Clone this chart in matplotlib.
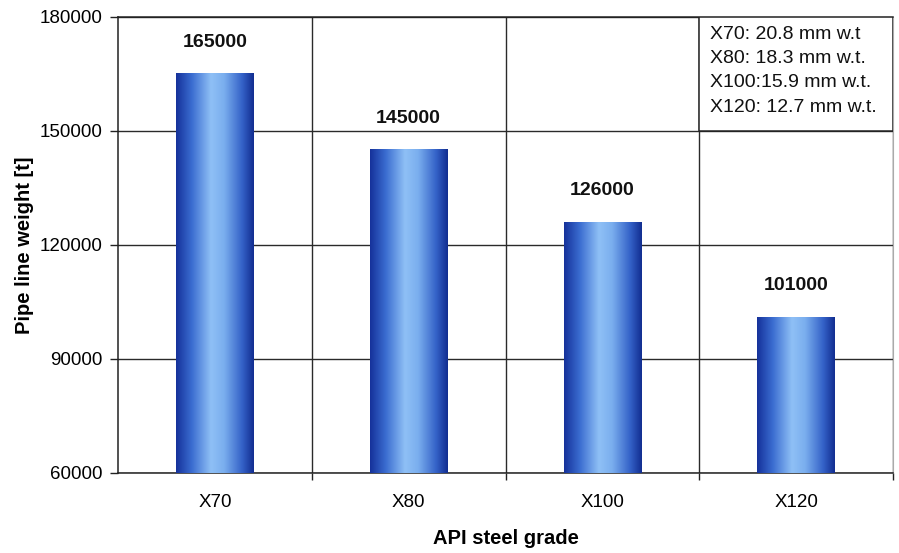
import matplotlib.pyplot as plt
import numpy as np
from matplotlib.colors import LinearSegmentedColormap
from matplotlib.patches import Rectangle

plt.rcParams['font.family'] = ['Liberation Sans', 'DejaVu Sans']

grades = ["X70", "X80", "X100", "X120"]
weights = [165000, 145000, 126000, 101000]
wall_notes = ["X70: 20.8 mm w.t", "X80: 18.3 mm w.t.", "X100:15.9 mm w.t.", "X120: 12.7 mm w.t."]
y_ticks = [60000, 90000, 120000, 150000, 180000]

# horizontal gradient for the "cylinder" look of the bars
bar_cmap = LinearSegmentedColormap.from_list(
    "bar", [(0.0, "#15319a"), (0.2, "#3a6cd0"), (0.45, "#8fc0f6"),
            (0.62, "#7aaeee"), (0.85, "#3462c8"), (1.0, "#122d90")])
grad = np.linspace(0, 1, 256).reshape(1, -1)

fig = plt.figure(figsize=(8.99, 5.53), dpi=100)
ax = fig.add_axes([0.1313, 0.1447, 0.8620, 0.8246])

x = np.arange(len(grades))
width = 0.4
bars = ax.bar(x, weights, width=width, color="none", edgecolor="none", zorder=3)
for b, v in zip(bars, weights):
    x0 = b.get_x()
    ax.imshow(grad, cmap=bar_cmap, aspect="auto", zorder=3,
              extent=(x0, x0 + width, y_ticks[0], v), interpolation="bicubic")
    ax.annotate(f"{v}", (b.get_x() + width / 2, v), xytext=(0, 23),
                textcoords="offset points", ha="center", va="center",
                fontsize=14, fontweight="bold", color="#111111")

ax.set_xlim(-0.5, 3.5)
ax.set_ylim(y_ticks[0], y_ticks[-1])
ax.set_yticks(y_ticks)
ax.set_xticks(x)
ax.set_xticklabels(grades)
ax.set_xticks(x + 0.5, minor=True)

ax.tick_params(axis="y", labelsize=13.5, length=6, width=1, pad=5, color="#222222")
ax.tick_params(axis="x", which="major", labelsize=13.5, length=0, pad=15)
ax.tick_params(axis="x", which="minor", length=5, width=1, color="#222222")

ax.grid(axis="y", which="major", color="#2a2a2a", linewidth=1, zorder=1)
ax.grid(axis="x", which="minor", color="#2a2a2a", linewidth=1, zorder=1)
ax.set_axisbelow(True)

for s in ["left", "bottom", "top"]:
    ax.spines[s].set_color("#222222")
    ax.spines[s].set_linewidth(1.1)
ax.spines["right"].set_color("#aaaaaa")

ax.set_xlabel("API steel grade", fontsize=14.5, fontweight="bold", labelpad=13)
ax.set_ylabel("Pipe line weight [t]", fontsize=14.5, fontweight="bold", labelpad=4)

# note box in upper right cell
ax.add_patch(Rectangle((0.75, 0.75), 0.25, 0.25, transform=ax.transAxes,
                       facecolor="white", edgecolor="#222222", linewidth=1.1, zorder=4))
ax.text(0.7635, 0.98, "\n".join(wall_notes), transform=ax.transAxes,
        ha="left", va="top", fontsize=14, linespacing=1.55, zorder=5, color="#111111")

fig.savefig("out.png", dpi=100)
